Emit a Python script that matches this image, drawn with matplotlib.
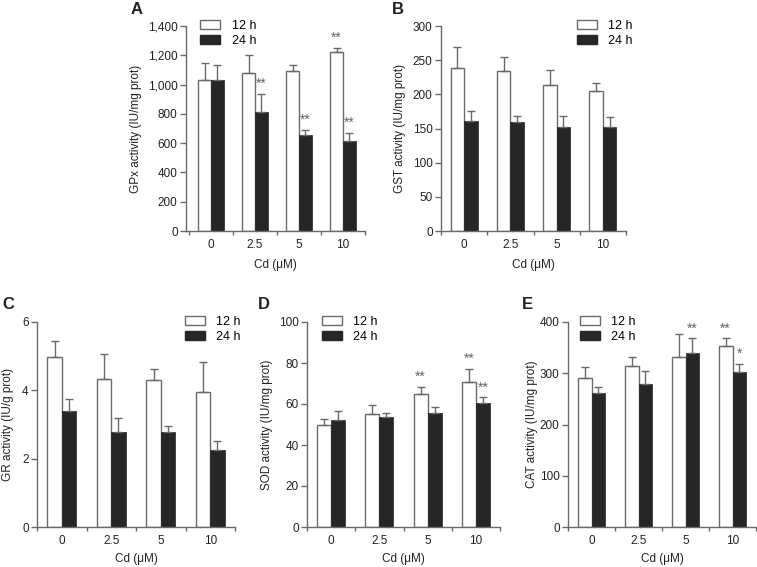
import matplotlib
matplotlib.use('Agg')
import matplotlib.pyplot as plt
from matplotlib.ticker import FuncFormatter, FixedLocator
from matplotlib.patches import Patch

plt.rcParams['font.family'] = ['Liberation Sans', 'DejaVu Sans']
plt.rcParams['font.size'] = 8

# Cd 농도 (그룹)
doses = ['0', '2.5', '5', '10']
series_names = ['12 h', '24 h']

# A: GPx
gpx_12 = [1030, 1080, 1093, 1223]
gpx_12_err = [118, 125, 43, 27]
gpx_24 = [1030, 816, 655, 614]
gpx_24_err = [102, 123, 38, 56]
gpx_sig_12 = ['', '', '', '**']
gpx_sig_24 = ['', '**', '**', '**']

# B: GST
gst_12 = [238, 234, 213, 205]
gst_12_err = [31, 21, 23, 12]
gst_24 = [161, 159, 152.5, 152.5]
gst_24_err = [15, 10, 15.5, 14.5]
gst_sig_12 = ['', '', '', '']
gst_sig_24 = ['', '', '', '']

# C: GR
gr_12 = [4.99, 4.33, 4.29, 3.95]
gr_12_err = [0.44, 0.73, 0.34, 0.87]
gr_24 = [3.39, 2.77, 2.77, 2.24]
gr_24_err = [0.36, 0.42, 0.20, 0.27]
gr_sig_12 = ['', '', '', '']
gr_sig_24 = ['', '', '', '']

# D: SOD
sod_12 = [49.6, 55.1, 64.7, 70.6]
sod_12_err = [3.1, 4.4, 3.5, 6.5]
sod_24 = [52.4, 53.7, 55.5, 60.3]
sod_24_err = [4.0, 1.9, 3.2, 2.9]
sod_sig_12 = ['', '', '**', '**']
sod_sig_24 = ['', '', '', '**']

# E: CAT
cat_12 = [290, 313.5, 331, 352.5]
cat_12_err = [23, 17.5, 45, 15.5]
cat_24 = [262, 280, 339.5, 302]
cat_24_err = [12, 25, 28.5, 17]
cat_sig_12 = ['', '', '', '**']
cat_sig_24 = ['', '', '**', '*']

W, H = 757, 567
AXIS_COLOR = '#6a6a6a'
BLACK_BAR = '#262626'


def px_rect(left, top, right, bottom):
    return [left / W, 1 - bottom / H, (right - left) / W, (bottom - top) / H]


def draw_panel(ax, v12, e12, v24, e24, s12, s24, ymax, ystep, ylabel,
               fmt=None, leg_x=0.06, ylab_x=-0.2, xlab_y=-0.13, xleft=-0.5, sig_off=0.015):
    x = list(range(len(doses)))
    bw = 0.29
    x12 = [i - bw / 2 for i in x]
    x24 = [i + bw / 2 for i in x]
    ax.bar(x12, v12, bw, color='white', edgecolor=AXIS_COLOR, linewidth=1.0,
           yerr=[[0] * len(e12), e12], error_kw=dict(ecolor=AXIS_COLOR, elinewidth=1.0,
                                                      capsize=3, capthick=1.0))
    ax.bar(x24, v24, bw, color=BLACK_BAR, edgecolor=BLACK_BAR, linewidth=0.5,
           yerr=[[0] * len(e24), e24], error_kw=dict(ecolor=AXIS_COLOR, elinewidth=1.0,
                                                      capsize=3, capthick=1.0))
    # 유의성 표시
    for xs, vals, errs, sigs in [(x12, v12, e12, s12), (x24, v24, e24, s24)]:
        for xi, v, e, s in zip(xs, vals, errs, sigs):
            if s:
                ax.text(xi, v + e + ymax * sig_off, s, ha='center', va='bottom',
                        fontsize=10, color='#666666', clip_on=False)

    ax.set_xlim(xleft, len(doses) - 0.5)
    ax.set_ylim(0, ymax)
    ax.xaxis.set_major_locator(FixedLocator([i - 0.5 for i in range(len(doses) + 1)]))
    ax.xaxis.set_minor_locator(FixedLocator(x))
    ax.xaxis.set_major_formatter(FuncFormatter(lambda v, p: ''))
    ax.set_xticklabels(doses, minor=True)
    ax.tick_params(axis='x', which='major', length=3, width=1.0, color=AXIS_COLOR, direction='out')
    ax.tick_params(axis='x', which='minor', length=0, pad=6, labelsize=8.5, labelcolor='#222222')
    ticks = [ystep * k for k in range(int(round(ymax / ystep)) + 1)]
    ax.set_yticks(ticks)
    if fmt:
        ax.yaxis.set_major_formatter(FuncFormatter(fmt))
    ax.tick_params(axis='y', length=4, width=1.0, color=AXIS_COLOR, pad=2,
                   labelsize=8.5, labelcolor='#222222')
    for sp in ['top', 'right']:
        ax.spines[sp].set_visible(False)
    for sp in ['left', 'bottom']:
        ax.spines[sp].set_color(AXIS_COLOR)
        ax.spines[sp].set_linewidth(1.0)
    ax.set_ylabel(ylabel, fontsize=8.5, color='#222222')
    ax.yaxis.set_label_coords(ylab_x, 0.5)
    ax.set_xlabel('Cd (\u03bcM)', fontsize=8.5, color='#222222', va='top')
    ax.xaxis.set_label_coords(0.5, xlab_y)

    handles = [Patch(facecolor='white', edgecolor=AXIS_COLOR, linewidth=1.0),
               Patch(facecolor=BLACK_BAR, edgecolor=BLACK_BAR)]
    ax.legend(handles, series_names, loc='upper left', bbox_to_anchor=(leg_x, 1.03),
              frameon=False, fontsize=9, handlelength=1.6, handleheight=0.75,
              handletextpad=0.9, labelspacing=0.25, borderpad=0, borderaxespad=0)


fig = plt.figure(figsize=(W / 100, H / 100), dpi=100)

axA = fig.add_axes(px_rect(186, 26, 365, 231))
draw_panel(axA, gpx_12, gpx_12_err, gpx_24, gpx_24_err, gpx_sig_12, gpx_sig_24,
           1400, 200, 'GPx activity (IU/mg prot)', fmt=lambda v, p: f'{v:,.0f}',
           leg_x=0.08, ylab_x=-0.245, xlab_y=-0.137, xleft=-0.57)

axB = fig.add_axes(px_rect(441, 26, 626, 231))
draw_panel(axB, gst_12, gst_12_err, gst_24, gst_24_err, gst_sig_12, gst_sig_24,
           300, 50, 'GST activity (IU/mg prot)', leg_x=0.735, ylab_x=-0.19, xlab_y=-0.137)

axC = fig.add_axes(px_rect(37, 322, 235, 527))
draw_panel(axC, gr_12, gr_12_err, gr_24, gr_24_err, gr_sig_12, gr_sig_24,
           6, 2, 'GR activity (IU/g prot)', leg_x=0.747, ylab_x=-0.118, xlab_y=-0.125)

axD = fig.add_axes(px_rect(307, 322, 500, 527))
draw_panel(axD, sod_12, sod_12_err, sod_24, sod_24_err, sod_sig_12, sod_sig_24,
           100, 20, 'SOD activity (IU/mg prot)', leg_x=0.078, ylab_x=-0.176, xlab_y=-0.125)

axE = fig.add_axes(px_rect(568, 322, 756, 527))
draw_panel(axE, cat_12, cat_12_err, cat_24, cat_24_err, cat_sig_12, cat_sig_24,
           400, 100, 'CAT activity (IU/mg prot)', leg_x=0.063, ylab_x=-0.16, xlab_y=-0.125)

# 패널 라벨
for letter, lx, ly in [('A', 131, 14), ('B', 392, 14), ('C', 2, 309), ('D', 258, 309), ('E', 522, 309)]:
    fig.text(lx / W, 1 - ly / H, letter, fontsize=12, fontweight='bold', color='#222222',
             ha='left', va='baseline')

fig.savefig('out.png', dpi=100)
